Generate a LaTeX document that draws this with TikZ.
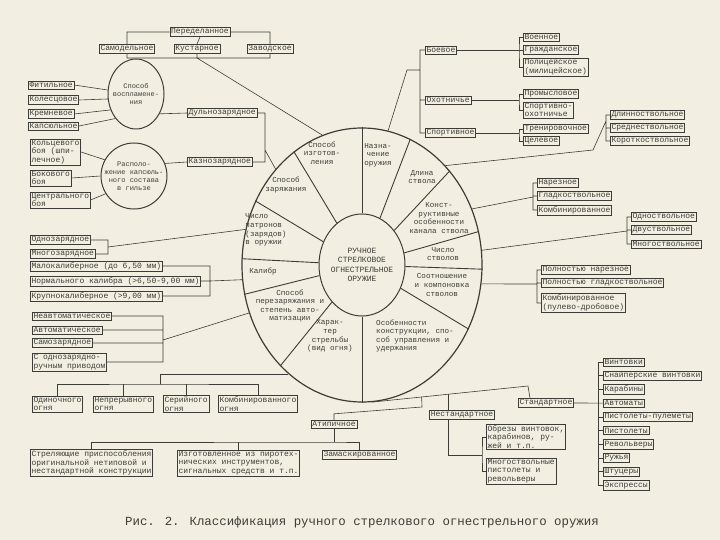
\documentclass[tikz,border=0pt]{standalone}
\usepackage{fontspec}
\newfontfamily\typewr{Liberation Mono}
\usetikzlibrary{positioning}
\usetikzlibrary{shapes.geometric}
\usetikzlibrary{calc}
\definecolor{paper}{RGB}{242,239,226}
\definecolor{ink}{RGB}{62,60,55}
\tikzset{
    item/.style = {rectangle,draw,inner sep=1.2pt,align=left,font=\typewr\fontsize{8}{8.5}\selectfont},
    leaf/.style = {item,anchor=west},
    sector/.style = {align=center,inner sep=0pt,font=\typewr\fontsize{7.6}{8.6}\selectfont},
    bubtext/.style = {align=center,inner sep=0pt,font=\typewr\fontsize{7}{8}\selectfont},
    bubble/.style = {ellipse,draw,inner sep=0pt,line width=1pt},
    rim/.style = {line width=0.9pt}}

\begin{document}
\begin{tikzpicture}[x=1pt,y=-1pt,color=ink,line width=0.6pt]
\fill[paper] (0,0) rectangle (720,540);
\useasboundingbox (0,0) rectangle (720,540);

\node[bubble,minimum width=240pt,minimum height=274pt,line width=1.2pt] (wheel) at (362,265) {};
\node[bubble,minimum width=86pt,minimum height=102pt] (hub) at (362,265) {};
\node[sector,font=\typewr\fontsize{8}{9.5}\selectfont] (core) at (hub) {РУЧНОЕ\\СТРЕЛКОВОЕ\\ОГНЕСТРЕЛЬНОЕ\\ОРУЖИЕ};
\foreach \a in {90,69,47,16,-2,-31,-90,-129,-166,177,149,121}
    \draw[rim] (hub.\a) -- (wheel.\a);

\node[sector] (sMfg) at (322,153) {Способ\\изготов-\\ления};
\node[sector] (sAim) at (378,155) {Назна-\\чение\\оружия};
\node[sector] (sLen) at (422,177) {Длина\\ствола};
\node[sector] (sBore) at (439,218) {Конст-\\руктивные\\особенности\\канала ствола};
\node[sector] (sNbar) at (443,254) {Число\\стволов};
\node[sector] (sLay) at (442,285) {Соотношение\\и компоновка\\стволов};
\node[sector,align=left] (sFeat) at (415,336) {Особенности\\конструкции, спо-\\соб управления и\\удержания};
\node[sector] (sFire) at (330,336) {Харак-\\тер\\стрельбы\\(вид огня)};
\node[sector] (sRel) at (290,306) {Способ\\перезаряжания и\\степень авто-\\матизации};
\node[sector] (sCal) at (263,272) {Калибр};
\node[sector,align=left] (sAmmo) at (266,230) {Число\\патронов\\(зарядов)\\в оружии};
\node[sector] (sLoad) at (286,185) {Способ\\заряжания};

\path (200,32) node[item] (Ref) {Переделанное}
    ++ (-73,17) node[item] (Self) {Самодельное}
    + (70,0) node[item] (Craft) {Кустарное}
    + (143,0) node[item] (Fact) {Заводское};
\coordinate (mfgbus) at (197,58);
\draw (Self.north) |- (Ref.west) (Ref.east) -| (Fact.north) (Ref.south) -- (Craft.north);
\draw (Self.south) |- (mfgbus) -| (Fact.south) (Craft.south) -- (mfgbus) -- (wheel.107);

\path (425,50) node[leaf] (Mil) {Боевое}
    + (0,50) node[leaf] (Hunt) {Охотничье}
    + (0,83) node[leaf] (Sport) {Спортивное};
\coordinate (aimknee) at (407,70);
\coordinate (aimbus) at (420,70);
\draw (wheel.79) -- (aimknee) -- (aimbus) (Mil.west) -| (aimbus) |- (Sport.west) (Hunt.west) -- (Hunt.west -| aimbus);

\path (523,37) node[leaf] (Army) {Военное}
    + (0,13) node[leaf] (Civ) {Гражданское}
    + (0,30) node[leaf] (Pol) {Полицейское\\(милицейское)};
\coordinate (milbus) at (519,50);
\draw (Mil.east) -- (milbus) (Army.west) -| (milbus) |- (Pol.west) (Civ.west) -- (milbus);

\path (523,94) node[leaf] (Trade) {Промысловое}
    + (0,16) node[leaf] (SpHunt) {Спортивно-\\охотничье};
\coordinate (huntbus) at (519,100);
\draw (Hunt.east) -- (huntbus) (Trade.west) -| (huntbus) |- (SpHunt.west);

\path (523,129) node[leaf] (Train) {Тренировочное}
    + (0,12) node[leaf] (Target) {Целевое};
\coordinate (sportbus) at (519,133);
\draw (Sport.east) -- (sportbus) (Train.west) -| (sportbus) |- (Target.west);

\path (610,115) node[leaf] (Long) {Длинноствольное}
    + (0,13) node[leaf] (Mid) {Среднествольное}
    + (0,26) node[leaf] (Short) {Короткоствольное};
\coordinate (lenknee) at (593,150);
\coordinate (lenbus) at (606,121);
\draw (wheel.50) -- (lenknee) -- (lenbus) (Long.west) -| (lenbus) |- (Short.west) (Mid.west) -- (Mid.west -| lenbus);

\path (537,183) node[leaf] (Rifled) {Нарезное}
    + (0,13) node[leaf] (Smooth) {Гладкоствольное}
    + (0,27) node[leaf] (Combo) {Комбинированное};
\coordinate (borebus) at (533,197);
\draw (wheel.27) -- (borebus) (Rifled.west) -| (borebus) |- (Combo.west) (Smooth.west) -- (Smooth.west -| borebus);

\path (631,217) node[leaf] (One) {Одноствольное}
    + (0,13) node[leaf] (Two) {Двуствольное}
    + (0,27) node[leaf] (Many) {Многоствольное};
\coordinate (nbarbus) at (627,231);
\draw (wheel.7) -- (nbarbus) (One.west) -| (nbarbus) |- (Many.west) (Two.west) -- (Two.west -| nbarbus);

\path (541,270) node[leaf] (AllRif) {Полностью нарезное}
    + (0,13) node[leaf] (AllSm) {Полностью гладкоствольное}
    + (0,33) node[leaf] (Mixed) {Комбинированное\\(пулево-дробовое)};
\coordinate (laybus) at (537,284);
\draw (wheel.-9) -- (laybus) (AllRif.west) -| (laybus) |- (Mixed.west) (AllSm.west) -- (AllSm.west -| laybus);

\node[leaf] (Std) at (518,403) {Стандартное};
\foreach \t [count=\i] in {Винтовки,Снайперские винтовки,Карабины,Автоматы,Пистолеты-пулеметы,Пистолеты,Револьверы,Ружья,Штуцеры,Экспрессы}
    \node[leaf] (std\i) at (603,{348.3+13.7*\i}) {\t};
\draw (std1.west) -- ++(-5,0) |- (std10.west);
\foreach \i in {2,3,5,6,7,8,9}
    \draw (std\i.west) -- ++(-5,0);
\draw (Std.east) -- (std4.west);

\coordinate (stdknee) at (528,386);
\coordinate (nsknee) at ($(wheel.-86)!0.49!(stdknee)$);
\coordinate (atknee) at ($(wheel.-86)!0.32!(stdknee)$);
\draw (wheel.-86) -- (stdknee) -- ([xshift=12pt]Std.north west);

\node[item] (NonStd) at (462,415) {Нестандартное};
\path (486,437) node[leaf] (Sawn) {Обрезы винтовок,\\карабинов, ру-\\жей и т.п.}
    + (0,34) node[leaf] (MultiPist) {Многоствольные\\пистолеты и\\револьверы};
\coordinate (nsbus) at (482,455);
\draw (nsknee) -- (nsknee |- NonStd.north) (NonStd.south -| nsknee) |- (nsbus) (Sawn.west) -| (nsbus) |- (MultiPist.west);

\node[item] (Atyp) at (334,424) {Атипичное};
\coordinate (atbend) at (422,407);
\draw (atknee) -- (atbend) -- ([yshift=6pt]Atyp.north) -- (Atyp.north);
\path (30,463) node[leaf] (Rig) {Стреляющие приспособления\\оригинальной нетиповой и\\нестандартной конструкции}
    + (147,0) node[leaf] (Pyro) {Изготовленное из пиротех-\\нических инструментов,\\сигнальных средств и т.п.}
    + (292,-8) node[leaf] (Mask) {Замаскированное};
\coordinate (atbus) at (334,442);
\draw (Rig.north) |- (atbus) -| (Mask.north) (Pyro.north) -- (Pyro.north |- atbus) (Atyp.south) -- (atbus);

\path (32,404) node[leaf] (Single) {Одиночного\\огня}
    + (61,0) node[leaf] (Cont) {Непрерывного\\огня}
    + (131,0) node[leaf] (Burst) {Серийного\\огня}
    + (186,0) node[leaf] (CombF) {Комбинированного\\огня};
\coordinate (firebus) at (160,384);
\draw (Single.north) |- (firebus) -| (CombF.north) (Cont.north) -- (Cont.north |- firebus) (Burst.north) -- (Burst.north |- firebus) (firebus) |- (wheel.236);

\path (32,316) node[leaf] (Nonauto) {Неавтоматическое}
    + (0,14) node[leaf] (Auto) {Автоматическое}
    + (0,27) node[leaf] (Semi) {Самозарядное}
    + (0,46) node[leaf] (Manual) {С однозарядно-\\ручным приводом};
\coordinate (reloadbus) at (163,340);
\draw (Nonauto.east) -| (reloadbus) |- (Manual.east) (Auto.east) -- (Auto.east -| reloadbus) (Semi.east) -- (Semi.east -| reloadbus) (reloadbus) -- (wheel.203);

\path (30,266) node[leaf] (Small) {Малокалиберное (до 6,50 мм)}
    + (0,15) node[leaf] (Norm) {Нормального калибра (>6,50-9,00 мм)}
    + (0,30) node[leaf] (Large) {Крупнокалиберное (>9,00 мм)};
\coordinate (calbus) at (210,281);
\draw (Small.east) -| (calbus) |- (Large.east) (Norm.east) -- (calbus) (calbus) -- (wheel.187);

\path (30,240) node[leaf] (OneShot) {Однозарядное}
    + (0,14) node[leaf] (Multi) {Многозарядное};
\coordinate (ammobus) at (108,247);
\draw (OneShot.east) -| (ammobus) |- (Multi.east) (ammobus) -- (wheel.163);

\path (187,113) node[leaf] (Muzzle) {Дульнозарядное}
    + (0,49) node[leaf] (Breech) {Казнозарядное};
\coordinate (loadbus) at (265,150);
\draw (Muzzle.east) -| (loadbus) |- (Breech.east) (loadbus) -- (wheel.132);

\node[bubble,minimum width=56pt,minimum height=70pt] (Ign) at (136,94) {};
\node[bubtext] (IgnText) at (Ign) {Способ\\воспламене-\\ния};
\path (28,85) node[leaf] (Match) {Фитильное}
    + (0,15) node[leaf] (Wlock) {Колесцовое}
    + (0,29) node[leaf] (Flint) {Кремневое}
    + (0,41) node[leaf] (Perc) {Капсюльное};
\draw (Match.east) -- (Ign.172) (Wlock.east) -- (Ign.190) (Flint.east) -- (Ign.212) (Perc.east) -- (Ign.230) (Ign.-40) -- (Muzzle.west);

\node[bubble,minimum width=66pt,minimum height=66pt] (Prime) at (134,176) {};
\node[bubtext] (PrimeText) at (Prime) {Располо-\\жение капсюль-\\ного состава\\в гильзе};
\path (30,152) node[leaf] (Rim) {Кольцевого\\боя (шпи-\\лечное)}
    + (0,26) node[leaf] (Side) {Бокового\\боя}
    + (0,48) node[leaf] (Center) {Центрального\\боя};
\draw (Rim.east) -- (Prime.151) (Side.east) -- (Prime.180) (Center.east) -- (Prime.212) (Prime.22) -- (Breech.west);

\node[font=\typewr\fontsize{12.4}{14}\selectfont] (caption) at (362,522) {Рис. 2. Классификация ручного стрелкового огнестрельного оружия};
\end{tikzpicture}
\end{document}
